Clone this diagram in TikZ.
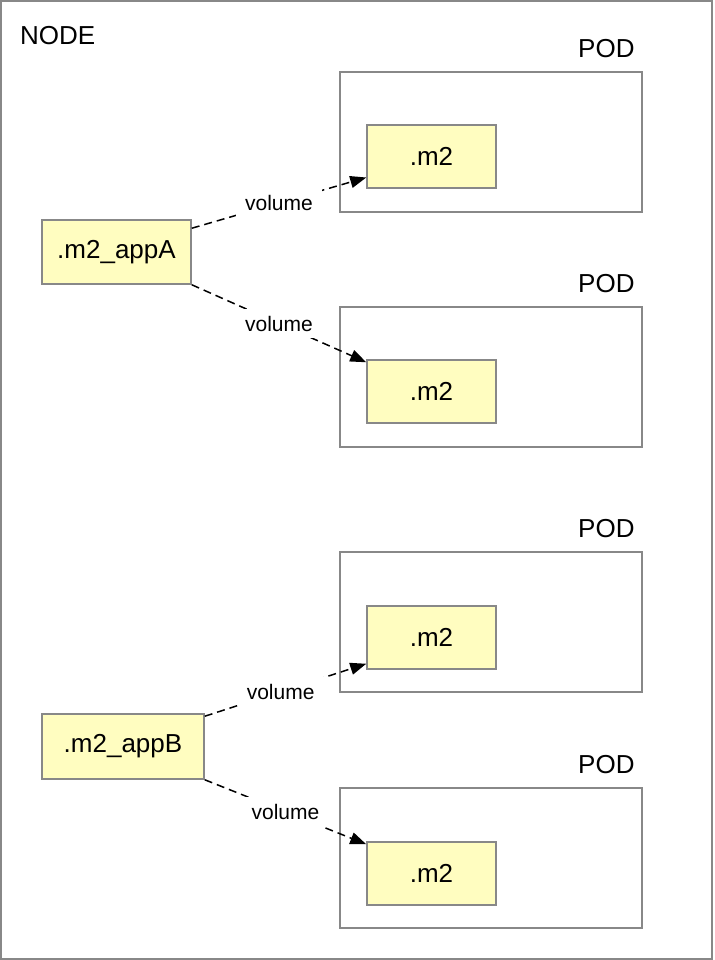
\documentclass[tikz,border=0pt]{standalone}
\usepackage{fontspec}
\setmainfont{Liberation Sans}
\usetikzlibrary{arrows.meta}
\usetikzlibrary{positioning}
\definecolor{boxfill}{RGB}{255,253,192}
\definecolor{boxline}{RGB}{136,136,136}
\tikzset{
  nodeframe/.style = {draw=boxline, line width=2pt},
  pod/.style = {rectangle, draw=boxline, line width=1.5pt, minimum width=302pt, minimum height=140pt, inner sep=0pt},
  store/.style = {rectangle, draw=boxline, fill=boxfill, line width=1.5pt, minimum height=63pt, inner sep=0pt, font=\fontsize{26}{30}\selectfont},
  podtitle/.style = {inner sep=0pt, font=\fontsize{26}{30}\selectfont},
  vol/.style = {dash pattern=on 8pt off 5pt, line width=1.5pt, -{Triangle[length=16pt,width=12pt]}},
  vollabel/.style = {fill=white, inner xsep=9pt, inner ysep=7pt, font=\fontsize{21}{25}\selectfont},
}

\begin{document}
\begin{tikzpicture}[x=1pt, y=-1pt]
	\useasboundingbox (0,0) rectangle (714,960);
	\draw[nodeframe] (1,1) rectangle (712,959);

	\node[podtitle, anchor=base west] (nodetitle) at (20,45) {NODE};

	% pods
	\node[pod] (podA) at (491,142) {};
	\node[pod] (podB) at (491,377) {};
	\node[pod] (podC) at (491,622) {};
	\node[pod] (podD) at (491,858) {};

	\node[podtitle, anchor=base east] (titleA) at ([xshift=-8pt, yshift=14pt]podA.north east) {POD};
	\node[podtitle, anchor=base east] (titleB) at ([xshift=-8pt, yshift=14pt]podB.north east) {POD};
	\node[podtitle, anchor=base east] (titleC) at ([xshift=-8pt, yshift=14pt]podC.north east) {POD};
	\node[podtitle, anchor=base east] (titleD) at ([xshift=-8pt, yshift=14pt]podD.north east) {POD};

	\node[store, minimum width=129pt, below right=53pt and 27pt of podA.north west] (m2a) {.m2};
	\node[store, minimum width=129pt, below right=53pt and 27pt of podB.north west] (m2b) {.m2};
	\node[store, minimum width=129pt, below right=54pt and 27pt of podC.north west] (m2c) {.m2};
	\node[store, minimum width=129pt, below right=54pt and 27pt of podD.north west] (m2d) {.m2};

	% host dirs
	\node[store, minimum width=149pt, minimum height=64pt] (appA) at (116.5,252) {.m2\_appA};
	\node[store, minimum width=162pt, minimum height=65pt] (appB) at (123,746.5) {.m2\_appB};

	\draw ([yshift=-9pt]appA.north east) edge[vol] node [vollabel, pos=0.5] {volume} ([yshift=-21pt]m2a.west);
	\draw (appA.south east) edge[vol] node [vollabel, pos=0.5] {volume} ([yshift=-3pt]m2b.north west);
	\draw ([yshift=-3pt]appB.north east) edge[vol] node [vollabel, pos=0.47] {volume} ([yshift=6pt]m2c.south west);
	\draw (appB.south east) edge[vol] node [vollabel, pos=0.5] {volume} ([yshift=-3pt]m2d.north west);

\end{tikzpicture}
\end{document}
